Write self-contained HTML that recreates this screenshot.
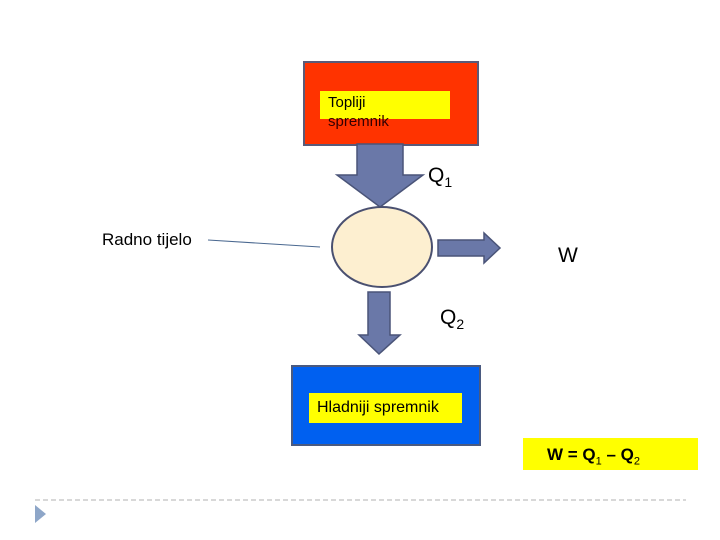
<!DOCTYPE html>
<html><head><style>
body{margin:0;width:720px;height:540px;background:#fff;position:relative;overflow:hidden;font-family:"Liberation Sans",sans-serif}
.a{position:absolute}
</style></head><body>
<div class="a" style="left:303px;top:61px;width:172px;height:81px;background:#ff3300;border:2px solid #5a5a78"></div>
<div class="a" style="left:320px;top:91px;width:130px;height:28px;background:#ffff00"></div>
<div class="a" style="left:328px;top:93px;font-size:15px;line-height:19px;color:#000">Topliji<br><span style="color:#300">spremnik</span></div>
<div class="a" style="left:291px;top:365px;width:186px;height:77px;background:#0060f0;border:2px solid #4a5a80"></div>
<div class="a" style="left:309px;top:393px;width:153px;height:30px;background:#ffff00"></div>
<div class="a" style="left:317px;top:399px;font-size:16px;color:#000">Hladniji spremnik</div>
<div class="a" style="left:523px;top:438px;width:175px;height:32px;background:#ffff00"></div>
<div class="a" style="left:547px;top:445px;font-size:17px;font-weight:bold;color:#000">W = Q<sub style="font-size:11px;font-weight:normal">1</sub> – Q<sub style="font-size:11px;font-weight:normal">2</sub></div>
<div class="a" style="left:102px;top:230px;font-size:17px;color:#000">Radno tijelo</div>
<div class="a" style="left:428px;top:164px;font-size:21px;color:#000">Q<sub style="font-size:14px">1</sub></div>
<div class="a" style="left:440px;top:306px;font-size:21px;color:#000">Q<sub style="font-size:14px">2</sub></div>
<div class="a" style="left:558px;top:244px;font-size:21px;color:#000">W</div>
<svg class="a" style="left:0;top:0" width="720" height="540">
<line x1="208" y1="240" x2="320" y2="247" stroke="#4a6890" stroke-width="1"/>
<polygon points="357,144 403,144 403,175 423,175 380,207 337,175 357,175" fill="#6a78a8" stroke="#4a5478" stroke-width="1.5"/>
<ellipse cx="382" cy="247" rx="50" ry="40" fill="#fdefd0" stroke="#4a5070" stroke-width="2"/>
<polygon points="438,240 484,240 484,233 500,248 484,263 484,256 438,256" fill="#6a78a8" stroke="#4a5478" stroke-width="1.5"/>
<polygon points="368,292 390,292 390,335 400,335 379,354 359,335 368,335" fill="#6a78a8" stroke="#4a5478" stroke-width="1.5"/>
<line x1="35" y1="500" x2="686" y2="500" stroke="#b0b0b0" stroke-width="1" stroke-dasharray="5,3"/>
<polygon points="35,505 46,514 35,523" fill="#8ea6c8"/>
</svg>
</body></html>
